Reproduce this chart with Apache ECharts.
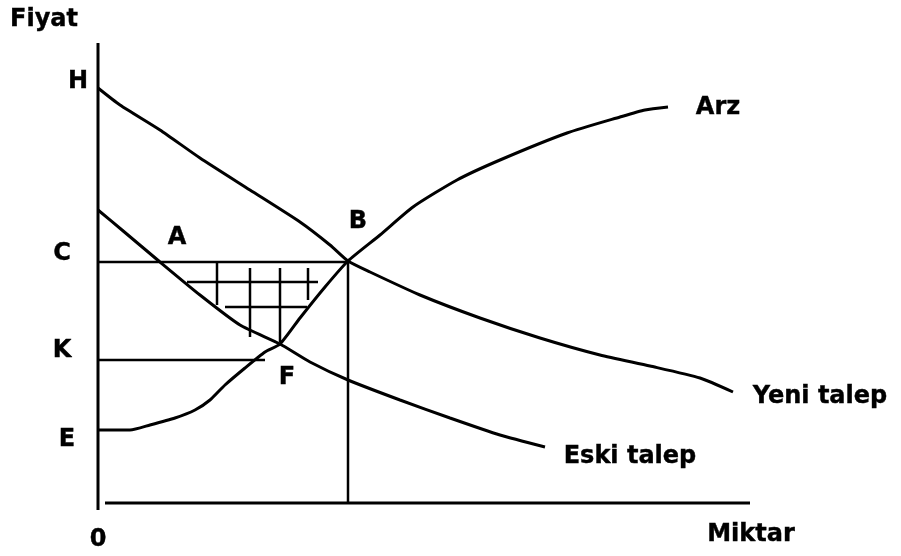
<!DOCTYPE html>
<html>
    <head>
        <meta charset="UTF-8">
        <title>Arz ve talep</title>
        <script src="https://cdn.jsdelivr.net/npm/echarts@6/dist/echarts.min.js"></script>
        <style>
            body,html{margin:0;padding:0;background:#fff;}
            #chart{width:901px;height:556px;}
        </style>
    </head>
    <body>
        <div id="chart"></div>
        <script type="text/javascript">
          // miktar (Q) / fiyat (P) noktalari, eksenlerin kesistigi nokta 0
          var yeniTalep = [[0,415],[22,398],[62,373],[102,345],[152,313],[202,281],[232,258],[250,242],[272,231],[322,208],[382,185],[442,165],[502,148],[552,137],[602,125],[635,111]];
          var eskiTalep = [[0,293],[24,273],[62,241],[102,208],[142,178],[182,159],[212,141],[250,123],[302,103],[352,85],[402,68],[447,56]];
          var arz = [[0,73],[32,73],[52,78],[77,85],[97,93],[112,103],[127,118],[147,135],[167,151],[182,159],[202,185],[227,216],[250,242],[282,268],[315,296],[359,323],[402,343],[469,370],[522,386],[547,393],[570,396]];
          var cCizgisi = [[0,241],[250,241]];
          var kCizgisi = [[0,143],[167,143]];
          var bDikey = [[250,242],[250,0]];
          var yEkseni = [[0,460],[0,-7]];
          var xEkseni = [[7,0],[652,0]];
          // taralı alan
          var tarama = [
              [[89,221],[220,221]],
              [[127,196],[209,196]],
              [[119,241],[119,198]],
              [[152,235],[152,166]],
              [[182,235],[182,161]],
              [[210,235],[210,203]]
          ];
          // etiketler: [metin, Q, P]
          var etiketler = [
              ['Fiyat',-54,483],['H',-20,421],['C',-36,249],['K',-36,152],['E',-31,63],['0',0,-37],
              ['A',79,265],['B',260,281],['F',189,125],['Arz',620,395],
              ['Yeni talep',722,106],['Eski talep',532,46],['Miktar',653,-32]
          ];

          var chart = echarts.init(document.getElementById("chart"));

          function cizgi(veri, kalinlik, yumusak){
              return {
                  type:'line',
                  data:veri,
                  showSymbol:false,
                  symbol:'none',
                  smooth:yumusak || false,
                  clip:false,
                  silent:true,
                  lineStyle:{color:'#000',width:kalinlik},
                  z:2
              };
          }

          var seriler = [
              cizgi(yEkseni,3),
              cizgi(xEkseni,3),
              cizgi(yeniTalep,3,0.2),
              cizgi(eskiTalep,3,0.2),
              cizgi(arz,3,0.2),
              cizgi(cCizgisi,2.5),
              cizgi(kCizgisi,2.5),
              cizgi(bDikey,2.5)
          ];
          tarama.forEach(function(t){ seriler.push(cizgi(t,2.5)); });

          seriler.push({
              type:'scatter',
              symbolSize:0,
              clip:false,
              silent:true,
              itemStyle:{opacity:1,color:'#000'},
              data:etiketler.map(function(e){ return {name:e[0],value:[e[1],e[2]]}; }),
              label:{
                  show:true,
                  position:'inside',
                  formatter:'{b}',
                  color:'#000',
                  textBorderColor:'#000',
                  textBorderWidth:0.4,
                  fontFamily:'DejaVu Sans',
                  fontWeight:'bold',
                  fontSize:24
              }
          });

          var option = {
              animation:false,
              backgroundColor:'#fff',
              grid:{left:0,right:0,top:0,bottom:0},
              xAxis:{type:'value',min:-98,max:803,show:false},
              yAxis:{type:'value',min:-53,max:503,show:false},
              series:seriler
          };
          chart.setOption(option);
        </script>
    </body>
</html>
